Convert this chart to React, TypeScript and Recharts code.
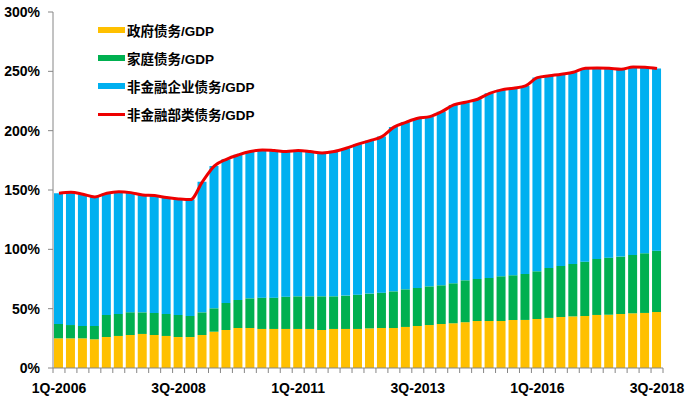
import React from 'react';
import { ComposedChart, Bar, Line, XAxis, YAxis, Legend } from 'recharts';

const quarters = [
  '1Q-2006', '2Q-2006', '3Q-2006', '4Q-2006',
  '1Q-2007', '2Q-2007', '3Q-2007', '4Q-2007',
  '1Q-2008', '2Q-2008', '3Q-2008', '4Q-2008',
  '1Q-2009', '2Q-2009', '3Q-2009', '4Q-2009',
  '1Q-2010', '2Q-2010', '3Q-2010', '4Q-2010',
  '1Q-2011', '2Q-2011', '3Q-2011', '4Q-2011',
  '1Q-2012', '2Q-2012', '3Q-2012', '4Q-2012',
  '1Q-2013', '2Q-2013', '3Q-2013', '4Q-2013',
  '1Q-2014', '2Q-2014', '3Q-2014', '4Q-2014',
  '1Q-2015', '2Q-2015', '3Q-2015', '4Q-2015',
  '1Q-2016', '2Q-2016', '3Q-2016', '4Q-2016',
  '1Q-2017', '2Q-2017', '3Q-2017', '4Q-2017',
  '1Q-2018', '2Q-2018', '3Q-2018',
];

const tickLabels = ['1Q-2006', '3Q-2008', '1Q-2011', '3Q-2013', '1Q-2016', '3Q-2018'];
const yTicks = [0, 50, 100, 150, 200, 250, 300];
const seriesNames = ['政府债务/GDP', '家庭债务/GDP', '非金融企业债务/GDP', '非金融部类债务/GDP'];

// 政府债务/GDP (%)
const government = [
  25.0, 25.0, 25.0, 24.2, 26.1, 27.0, 27.8, 28.7, 27.8, 27.0,
  26.1, 26.1, 27.8, 30.6, 32.0, 33.7, 33.7, 32.9, 32.9, 32.9,
  32.9, 32.9, 32.0, 32.9, 32.9, 32.9, 33.4, 33.7, 33.7, 34.6,
  35.4, 36.2, 37.1, 37.7, 38.6, 39.6, 39.6, 39.6, 40.5, 40.5,
  41.3, 42.2, 43.0, 43.5, 43.8, 44.7, 44.9, 45.5, 46.1, 46.4,
  47.2,
];

// 家庭债务/GDP (%)
const household = [
  12.1, 11.2, 10.4, 11.2, 18.6, 18.5, 19.1, 18.2, 18.6, 18.5,
  18.6, 17.7, 19.1, 19.7, 22.8, 23.6, 25.0, 26.4, 26.4, 27.2,
  27.5, 27.5, 28.4, 27.5, 28.1, 28.9, 29.3, 29.8, 30.9, 31.7,
  32.0, 32.6, 32.6, 33.7, 35.3, 35.4, 36.3, 37.7, 37.6, 38.7,
  40.2, 42.1, 43.0, 44.2, 45.8, 47.2, 48.1, 48.4, 49.2, 50.3,
  51.7,
];

// 非金融企业债务/GDP (%)
const corporate = [
  110.2, 111.9, 111.0, 108.8, 102.6, 103.1, 100.9, 98.9, 98.9, 98.1,
  97.8, 98.1, 110.1, 120.0, 121.1, 122.3, 123.7, 124.5, 123.9, 122.3,
  122.8, 122.0, 120.8, 122.0, 124.2, 126.8, 128.9, 131.5, 138.4, 140.7,
  143.0, 143.0, 146.3, 150.3, 150.1, 151.5, 155.6, 157.1, 157.7, 158.5,
  163.2, 161.9, 161.6, 161.5, 163.0, 161.0, 159.6, 157.9, 158.4, 156.8,
  153.4,
];

// 非金融部类债务/GDP (%)
const total = [
  147.3, 148.1, 146.4, 144.2, 147.3, 148.6, 147.8, 145.8, 145.3, 143.6,
  142.5, 141.9, 157.0, 170.3, 175.9, 179.6, 182.4, 183.8, 183.2, 182.4,
  183.2, 182.4, 181.2, 182.4, 185.2, 188.6, 191.6, 195.0, 203.0, 207.0,
  210.4, 211.8, 216.0, 221.7, 224.0, 226.5, 231.5, 234.4, 235.8, 237.7,
  244.7, 246.2, 247.6, 249.2, 252.6, 252.9, 252.6, 251.8, 253.7, 253.5,
  252.3,
];

const data = quarters.map((q, i) => ({
  q,
  government: government[i],
  household: household[i],
  corporate: corporate[i],
  total: total[i],
}));

const W = 690;
const H = 404;
const M = { top: 12, right: 27, bottom: 6, left: 0 };
const Y_W = 53;
const BAND = (W - M.left - M.right - Y_W) / quarters.length;
const AXIS = '#868686';
const FONT = '"Liberation Sans", Arial, "Noto Sans CJK SC", sans-serif';

function XTick(props: any) {
  const { x, y, payload, index } = props;
  const show = tickLabels.includes(payload.value);
  return (
    <g>
      <line x1={x - BAND / 2} x2={x - BAND / 2} y1={y - 5} y2={y} stroke={AXIS} strokeWidth={1} />
      {index === quarters.length - 1 && (
        <line x1={x + BAND / 2} x2={x + BAND / 2} y1={y - 5} y2={y} stroke={AXIS} strokeWidth={1} />
      )}
      {show && (
        <text x={x} y={y + 20} textAnchor="middle" fontSize={14} fontWeight="bold" fill="#000" fontFamily={FONT}>
          {payload.value}
        </text>
      )}
    </g>
  );
}

function LegendContent(props: any) {
  const payload = [...(props.payload || [])].sort(
    (a: any, b: any) => seriesNames.indexOf(a.value) - seriesNames.indexOf(b.value)
  );
  return (
    <div>
      {payload.map((p: any) => (
        <div key={p.value} style={{ display: 'flex', alignItems: 'center', height: 28 }}>
          {p.type === 'line' ? (
            <div style={{ width: 27, height: 3, background: p.color, marginRight: 2 }} />
          ) : (
            <div style={{ width: 27, height: 6, background: p.color, marginRight: 2 }} />
          )}
          <span style={{ fontSize: 13.5, fontWeight: 'bold', color: '#000', fontFamily: FONT, whiteSpace: 'nowrap' }}>
            {p.value}
          </span>
        </div>
      ))}
    </div>
  );
}

export default function App() {
  return (
    <div style={{ position: 'absolute', left: 0, top: 0, width: W, height: H, background: '#fff', fontFamily: FONT }}>
      <ComposedChart width={W} height={H} data={data} margin={M}>
        <XAxis
          dataKey="q"
          interval={0}
          tick={<XTick />}
          tickLine={false}
          tickSize={5}
          tickMargin={0}
          axisLine={{ stroke: AXIS }}
          height={30}
        />
        <YAxis
          domain={[0, 300]}
          ticks={yTicks}
          width={Y_W}
          tickFormatter={(v: number) => `${v}%`}
          tick={{ fontSize: 14, fontWeight: 'bold', fill: '#000', fontFamily: FONT }}
          tickSize={5}
          tickMargin={8}
          axisLine={{ stroke: AXIS }}
          tickLine={{ stroke: AXIS }}
        />
        <Legend
          layout="vertical"
          align="center"
          verticalAlign="middle"
          content={<LegendContent />}
          wrapperStyle={{ left: 98, top: 16, width: 220, height: 112 }}
        />
        <Bar dataKey="government" name={seriesNames[0]} stackId="a" fill="#FFC000" barSize={9} isAnimationActive={false} />
        <Bar dataKey="household" name={seriesNames[1]} stackId="a" fill="#00B050" barSize={9} isAnimationActive={false} />
        <Bar dataKey="corporate" name={seriesNames[2]} stackId="a" fill="#00B0F0" barSize={9} isAnimationActive={false} />
        <Line
          dataKey="total"
          name={seriesNames[3]}
          type="monotone"
          stroke="#EE0000"
          strokeWidth={3}
          dot={false}
          legendType="line"
          isAnimationActive={false}
        />
      </ComposedChart>
    </div>
  );
}
